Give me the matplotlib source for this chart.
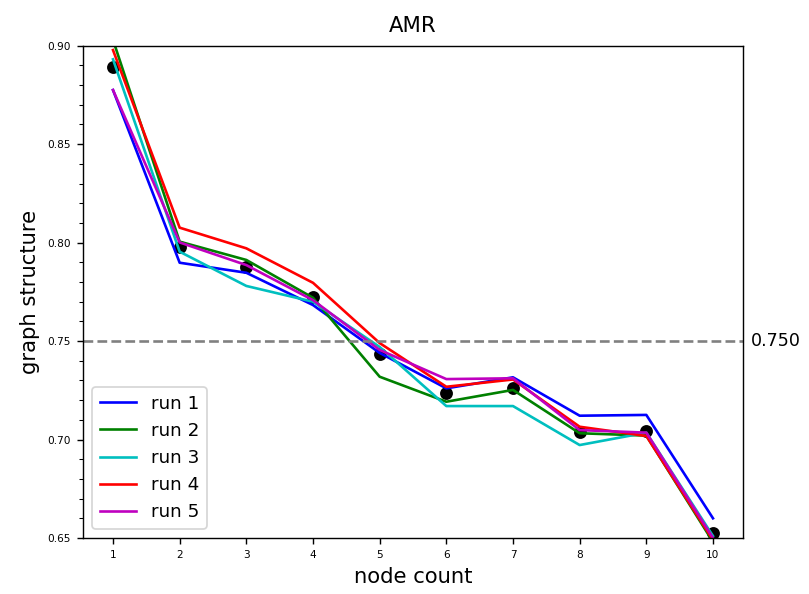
import numpy as np
import matplotlib.pyplot as plt
from matplotlib.ticker import MultipleLocator
import matplotlib.transforms as mtransforms

nodes = [1, 2, 3, 4, 5, 6, 7, 8, 9, 10]
run1 = [0.8775, 0.7898, 0.7847, 0.7683, 0.7440, 0.7260, 0.7316, 0.7121, 0.7125, 0.6600]
run2 = [0.9030, 0.8005, 0.7912, 0.7720, 0.7319, 0.7192, 0.7252, 0.7032, 0.7020, 0.6480]
run3 = [0.8931, 0.7954, 0.7780, 0.7700, 0.7470, 0.7170, 0.7170, 0.6972, 0.7035, 0.6510]
run4 = [0.8978, 0.8076, 0.7971, 0.7796, 0.7490, 0.7268, 0.7305, 0.7065, 0.7018, 0.6490]
run5 = [0.8775, 0.8001, 0.7886, 0.7708, 0.7455, 0.7307, 0.7311, 0.7048, 0.7035, 0.6500]
mean_pts = [0.8893, 0.7980, 0.7875, 0.7722, 0.7434, 0.7238, 0.7263, 0.7037, 0.7045, 0.6524]
runs = [run1, run2, run3, run4, run5]
labels = ['run 1', 'run 2', 'run 3', 'run 4', 'run 5']
colors = ['b', 'g', 'c', 'r', 'm']
threshold = 0.75

DPI = 126.4
fig = plt.figure(figsize=(809 / DPI, 594 / DPI), dpi=DPI)
ax = fig.add_axes([0.1026, 0.0943, 0.8158, 0.8287])

ax.scatter(nodes, mean_pts, color='black', s=40, zorder=1)
for r, lab, c in zip(runs, labels, colors):
    ax.plot(nodes, r, color=c, label=lab, zorder=2)

ax.axhline(threshold, color='gray', linestyle='--', linewidth=1.5)
trans = mtransforms.blended_transform_factory(ax.transAxes, ax.transData)
ax.text(1.012, threshold, '{:.3f}'.format(threshold), transform=trans,
        va='center', ha='left', fontsize=10)

ax.set_ylim(0.65, 0.90)
ax.set_xticks(nodes)
ax.yaxis.set_minor_locator(MultipleLocator(0.01))
ax.tick_params(axis='both', labelsize=6)
ax.set_title('AMR', fontsize=12, pad=8)
ax.set_xlabel('node count', fontsize=12)
ax.set_ylabel('graph structure', fontsize=12)
ax.legend(loc='lower left', fontsize=10.5)

fig.savefig('out.png', dpi=DPI)
